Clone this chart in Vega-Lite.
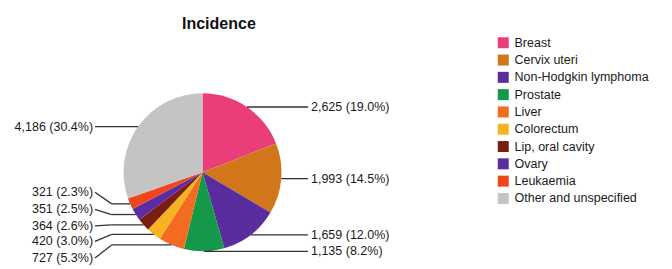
{
  "$schema": "https://vega.github.io/schema/vega-lite/v6.json",
  "width": 672,
  "height": 269,
  "padding": {"top": 16, "left": 0, "right": 0, "bottom": 0},
  "autosize": {"type": "fit", "contains": "padding"},
  "background": "white",
  "config": {"view": {"stroke": null}, "font": "Liberation Sans"},
  "title": {"text": "Incidence", "fontSize": 16, "fontWeight": "bold", "font": "Liberation Sans", "color": "#111", "anchor": "start", "frame": "group", "dx": 182, "offset": 0, "baseline": "top"},
  "data": {"values": [
    {"cancer": "Breast", "cases": 2625},
    {"cancer": "Cervix uteri", "cases": 1993},
    {"cancer": "Non-Hodgkin lymphoma", "cases": 1659},
    {"cancer": "Prostate", "cases": 1135},
    {"cancer": "Liver", "cases": 727},
    {"cancer": "Colorectum", "cases": 420},
    {"cancer": "Lip, oral cavity", "cases": 364},
    {"cancer": "Ovary", "cases": 351},
    {"cancer": "Leukaemia", "cases": 321},
    {"cancer": "Other and unspecified", "cases": 4186}
  ]},
  "transform": [
    {"window": [{"op": "row_number", "as": "idx"}]},
    {"joinaggregate": [{"op": "sum", "field": "cases", "as": "total"}]},
    {"window": [{"op": "sum", "field": "cases", "as": "cum"}], "sort": [{"field": "idx", "order": "ascending"}], "frame": [null, 0]},
    {"calculate": "2*PI*(datum.cum - datum.cases/2)/datum.total", "as": "mid"},
    {"calculate": "sin(datum.mid)", "as": "ax"},
    {"calculate": "cos(datum.mid)", "as": "ay"},
    {"calculate": "datum.mid > PI", "as": "left"},
    {"calculate": "datum.mid > PI && datum.mid < 1.5*PI", "as": "spread"},
    {"calculate": "datum.spread ? 0.3856 + 1.6*datum.ay : datum.ay", "as": "ly"},
    {"calculate": "datum.left ? -1.361 : 1.335", "as": "lx"},
    {"calculate": "datum.spread ? -1.15 : datum.lx", "as": "ex"},
    {"calculate": "datum.left ? -1.385 : 1.373", "as": "tx"},
    {"calculate": "format(datum.cases, ',') + ' (' + format(datum.cases/datum.total, '.1%') + ')'", "as": "label"}
  ],
  "layer": [
    {
      "mark": {"type": "arc", "outerRadius": 79, "stroke": null},
      "encoding": {
        "x": {"datum": 0, "type": "quantitative", "scale": {"domain": [-2.5633, 5.943], "nice": false, "zero": false}, "axis": null},
        "y": {"datum": 0, "type": "quantitative", "scale": {"domain": [-1.2241, 1.7759], "nice": false, "zero": false}, "axis": null},
        "theta": {"field": "cases", "type": "quantitative", "stack": true},
        "order": {"field": "idx", "type": "quantitative"},
        "color": {
          "field": "cancer", "type": "nominal",
          "scale": {
            "domain": ["Breast", "Cervix uteri", "Non-Hodgkin lymphoma", "Prostate", "Liver", "Colorectum", "Lip, oral cavity", "Ovary", "Leukaemia", "Other and unspecified"],
            "range": ["#ea3e7b", "#d2761c", "#5a2d9e", "#15984a", "#f26b21", "#f7b322", "#7b1e12", "#5c2ca3", "#f0461e", "#c4c4c4"]
          },
          "legend": {
            "title": null, "orient": "none", "legendX": 497, "legendY": 4.5,
            "symbolType": "square", "symbolSize": 121, "symbolStrokeWidth": 0,
            "labelFontSize": 12.5, "labelFont": "Liberation Sans", "labelColor": "#1a1a1a",
            "labelOffset": 5, "rowPadding": 4.3, "padding": 0, "labelLimit": 300
          }
        }
      }
    },
    {
      "mark": {"type": "rule", "color": "#333", "strokeWidth": 1.3},
      "encoding": {
        "x": {"field": "ax", "type": "quantitative", "scale": {"domain": [-2.5633, 5.943], "nice": false, "zero": false}, "axis": null},
        "x2": {"field": "ex"},
        "y": {"field": "ay", "type": "quantitative", "scale": {"domain": [-1.2241, 1.7759], "nice": false, "zero": false}, "axis": null}
      }
    },
    {
      "mark": {"type": "rule", "color": "#333", "strokeWidth": 1.3},
      "encoding": {
        "x": {"field": "ex", "type": "quantitative", "scale": {"domain": [-2.5633, 5.943], "nice": false, "zero": false}, "axis": null},
        "x2": {"field": "lx"},
        "y": {"field": "ay", "type": "quantitative", "scale": {"domain": [-1.2241, 1.7759], "nice": false, "zero": false}, "axis": null},
        "y2": {"field": "ly"}
      }
    },
    {
      "transform": [{"filter": "datum.left"}],
      "mark": {"type": "text", "align": "right", "baseline": "middle", "fontSize": 12.5, "font": "Liberation Sans", "color": "#1a1a1a"},
      "encoding": {
        "x": {"field": "tx", "type": "quantitative", "scale": {"domain": [-2.5633, 5.943], "nice": false, "zero": false}, "axis": null},
        "y": {"field": "ly", "type": "quantitative", "scale": {"domain": [-1.2241, 1.7759], "nice": false, "zero": false}, "axis": null},
        "text": {"field": "label"}
      }
    },
    {
      "transform": [{"filter": "!datum.left"}],
      "mark": {"type": "text", "align": "left", "baseline": "middle", "fontSize": 12.5, "font": "Liberation Sans", "color": "#1a1a1a"},
      "encoding": {
        "x": {"field": "tx", "type": "quantitative", "scale": {"domain": [-2.5633, 5.943], "nice": false, "zero": false}, "axis": null},
        "y": {"field": "ly", "type": "quantitative", "scale": {"domain": [-1.2241, 1.7759], "nice": false, "zero": false}, "axis": null},
        "text": {"field": "label"}
      }
    }
  ]
}
